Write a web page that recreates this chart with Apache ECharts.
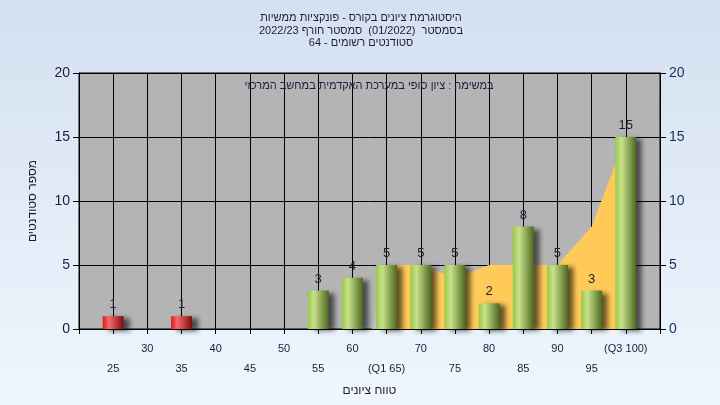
<!DOCTYPE html>
<html><head><meta charset="utf-8">
<script src="https://cdn.jsdelivr.net/npm/echarts@6/dist/echarts.min.js"></script>
<style>html,body{margin:0;padding:0;}#c{width:720px;height:405px;}</style>
</head><body><div id="c"></div>
<script>
const titleLines = ['היסטוגרמת ציונים בקורס - פונקציות ממשיות', 'בסמסטר  (01/2022)  סמסטר חורף 2022/23', 'סטודנטים רשומים - 64'];
const subtitle = 'במשימה : ציון סופי במערכת האקדמית במחשב המרכזי';
const xAxisTitle = 'טווח ציונים';
const yAxisTitle = 'מספר סטודנטים';
const grades = [25, 35, 55, 60, 65, 70, 75, 80, 85, 90, 95, 100];
const counts = [1, 1, 3, 4, 5, 5, 5, 2, 8, 5, 3, 15];
const passMark = 55;
const curveX = [65, 70, 75, 80, 85, 90, 95, 100];
const curveY = [5, 5, 4, 5, 5, 5, 8, 15];
const lowCurveX = [62.8, 65];
const lowCurveY = [0, 5];
const xTickSpecial = {65: '(Q1 65)', 100: '(Q3 100)'};
const xFirstLabel = 25, xLastLabel = 100;
const xMin = 20, xMax = 105, xStep = 5;
const yMin = 0, yMax = 20, yStep = 5;

const FONT = "'Liberation Sans', 'DejaVu Sans', sans-serif";
const TXT = '#1c1c3c';
const chart = echarts.init(document.getElementById('c'), null, {renderer: 'canvas'});

const grad = (a, b, c) => new echarts.graphic.LinearGradient(0, 0, 1, 0, [
  {offset: 0, color: a}, {offset: 0.3, color: b}, {offset: 1, color: c}
]);
const greenFill = grad('#98c84a', '#c8e18a', '#4c6820');
const redFill = grad('#e21818', '#f56a6a', '#7a0e0e');

const barData = grades.map((g, i) => ({
  value: [g, counts[i]],
  itemStyle: {color: g < passMark ? redFill : greenFill}
}));

const titleGraphics = titleLines.map((t, i) => ({
  type: 'text', x: 361, y: 18 + i * 12.5,
  style: {text: t, fontSize: 11, fill: TXT, align: 'center', verticalAlign: 'middle', fontFamily: FONT}
}));

chart.setOption({
  backgroundColor: {type: 'linear', x: 0, y: 0, x2: 0, y2: 1,
    colorStops: [{offset: 0, color: '#d4e0f1'}, {offset: 1, color: '#eff6fd'}]},
  textStyle: {fontFamily: FONT},
  animation: false,
  graphic: titleGraphics.concat([
    {type: 'text', x: 369, y: 86, style: {text: subtitle, fontSize: 11, fill: TXT, align: 'center', verticalAlign: 'middle', fontFamily: FONT}, z: 100}
  ]),
  grid: {left: 79, right: 60, top: 73, height: 256, show: true, backgroundColor: '#b4b4b4', borderColor: '#000', borderWidth: 1},
  xAxis: {
    type: 'value', min: xMin, max: xMax, interval: xStep,
    name: xAxisTitle, nameLocation: 'middle', nameGap: 56,
    nameTextStyle: {fontSize: 12, color: TXT, fontFamily: FONT},
    axisLine: {show: true, lineStyle: {color: '#000', width: 1}},
    axisTick: {show: true, length: 5, lineStyle: {color: '#000'}},
    splitLine: {show: true, lineStyle: {color: '#000', width: 1}},
    axisLabel: {
      margin: 10, fontSize: 11, color: TXT, lineHeight: 20, fontFamily: FONT,
      showMinLabel: true, showMaxLabel: true, hideOverlap: false,
      formatter: v => {
        if (v < xFirstLabel || v > xLastLabel) return '';
        const t = xTickSpecial[v] || String(v);
        return (v % 10 === 0) ? t : '\n' + t;
      }
    }
  },
  yAxis: [
    {type: 'value', min: yMin, max: yMax, interval: yStep, position: 'left',
     name: yAxisTitle, nameLocation: 'middle', nameGap: 40, nameRotate: 90,
     nameTextStyle: {fontSize: 12, color: TXT, fontFamily: FONT},
     axisLine: {show: true, lineStyle: {color: '#000'}},
     axisTick: {show: true, length: 6, lineStyle: {color: '#000'}},
     splitLine: {show: true, lineStyle: {color: '#000', width: 1}},
     axisLabel: {fontSize: 14, color: TXT, margin: 9, fontFamily: FONT}},
    {type: 'value', min: yMin, max: yMax, interval: yStep, position: 'right',
     axisLine: {show: true, lineStyle: {color: '#000'}},
     axisTick: {show: true, length: 6, lineStyle: {color: '#000'}},
     splitLine: {show: false},
     axisLabel: {fontSize: 14, color: '#1c2c5c', margin: 9, fontFamily: FONT}}
  ],
  series: [
    {type: 'line', data: lowCurveX.map((x, i) => [x, lowCurveY[i]]), symbol: 'none',
     lineStyle: {width: 0}, areaStyle: {color: '#bdbdbd', opacity: 1}, z: 1, silent: true},
    {type: 'line', data: curveX.map((x, i) => [x, curveY[i]]), symbol: 'none',
     lineStyle: {width: 0}, areaStyle: {color: '#ffca58', opacity: 1}, z: 1, silent: true},
    {type: 'bar', data: barData, barWidth: 21, z: 3,
     itemStyle: {shadowColor: 'rgba(0,0,0,0.6)', shadowBlur: 5, shadowOffsetX: 6, shadowOffsetY: 2},
     label: {show: true, position: 'top', distance: 5, fontSize: 13, color: TXT, fontFamily: FONT,
       formatter: p => p.value[1]}}
  ]
});
</script></body></html>
